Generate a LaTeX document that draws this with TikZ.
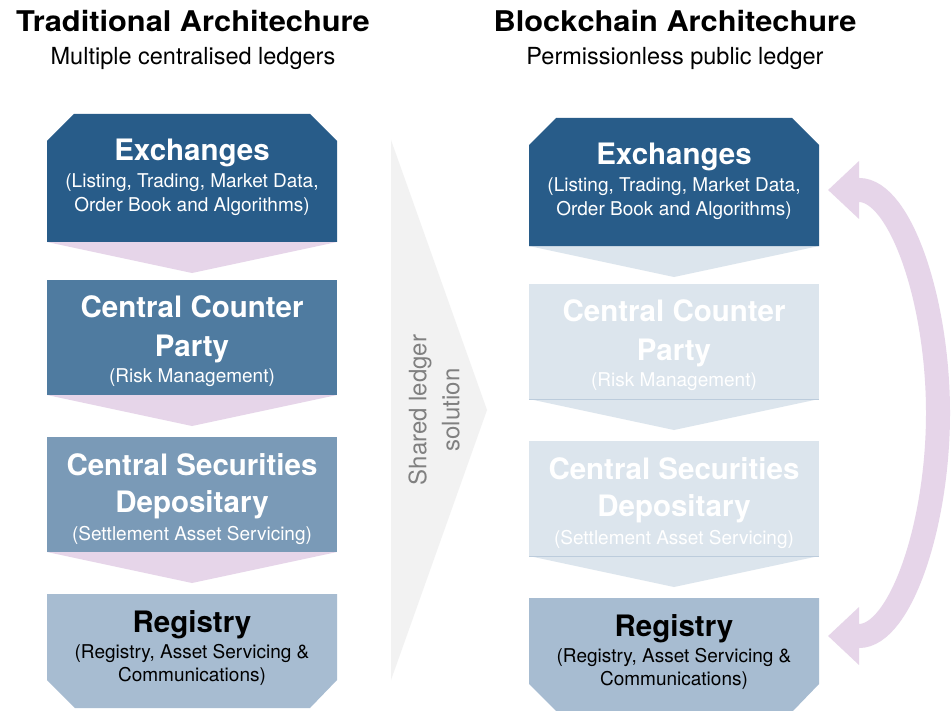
\documentclass[tikz,border=0pt]{standalone}
\usepackage{fontspec}
\setmainfont{TeX Gyre Heros}
\newfontfamily\titlefont[FakeStretch=1.08]{TeX Gyre Heros}
\usetikzlibrary{arrows.meta}
\definecolor{exA}{HTML}{285C89}
\definecolor{exB}{HTML}{4F7BA0}
\definecolor{exC}{HTML}{7A9AB7}
\definecolor{exD}{HTML}{A7BCD1}
\definecolor{faded}{HTML}{DCE5ED}
\definecolor{pinkc}{HTML}{E6D5E9}
\definecolor{grayarrow}{HTML}{F2F2F2}
\definecolor{graytext}{HTML}{808080}
\begin{document}
\begin{tikzpicture}[x=1pt,y=-1pt,
  hd/.style={font=\titlefont\fontsize{28.5}{32}\selectfont\bfseries, anchor=base, inner sep=0pt},
  subh/.style={font=\fontsize{23.5}{28}\selectfont, anchor=base, inner sep=0pt},
  bt/.style={font=\fontsize{29.5}{36}\selectfont\bfseries, anchor=base, inner sep=0pt},
  bs/.style={font=\fontsize{19}{24}\selectfont, anchor=base, inner sep=0pt},
  wt/.style={text=white},
  kt/.style={text=black},
  dbl/.style={draw=pinkc, line width=24pt,
    {Triangle[width=56pt,length=31pt,fill=pinkc]}-{Triangle[width=56pt,length=31pt,fill=pinkc]}}
]
\useasboundingbox (0,0) rectangle (952,711);
\fill[white] (0,0) rectangle (952,711);

% headers
\node[hd] (lt) at (193,32) {Traditional Architechure};
\node[subh] (ls) at (193,65) {Multiple centralised ledgers};
\node[hd] (rt) at (675,32) {Blockchain Architechure};
\node[subh] (rs) at (675,65) {Permissionless public ledger};

% middle arrow
\fill[grayarrow] (391,140) -- (487,410) -- (391,680) -- cycle;
\node[font=\fontsize{24}{33}\selectfont, text=graytext, rotate=90, align=center, inner sep=0pt] (shared) at (434,410) {Shared ledger\\solution};

% ---------- left column ----------
\fill[pinkc] (47,242) -- (337,242) -- (192,273) -- cycle;
\fill[pinkc] (47,395) -- (337,395) -- (192,426) -- cycle;
\fill[pinkc] (47,552) -- (337,552) -- (192,583) -- cycle;
\fill[exA] (47,141) -- (74,114) -- (310,114) -- (337,141) -- (337,242) -- (47,242) -- cycle;
\fill[exB] (47,280) rectangle (337,395);
\fill[exC] (47,437) rectangle (337,552);
\fill[exD] (47,594) -- (337,594) -- (337,680) -- (310,708) -- (75,708) -- (47,680) -- cycle;

\node[bt,wt] (lex1) at (192,161) {Exchanges};
\node[bs,wt] (lex2) at (192,188) {(Listing, Trading, Market Data,};
\node[bs,wt] (lex3) at (192,212) {Order Book and Algorithms)};
\node[bt,wt] (lcc1) at (192,317) {Central Counter};
\node[bt,wt] (lcc2) at (192,356) {Party};
\node[bs,wt] (lcc3) at (192,382) {(Risk Management)};
\node[bt,wt] (lcs1) at (192,475) {Central Securities};
\node[bt,wt] (lcs2) at (192,512) {Depositary};
\node[bs,wt] (lcs3) at (192,540) {(Settlement Asset Servicing)};
\node[bt,kt] (lrg1) at (192,632) {Registry};
\node[bs,kt] (lrg2) at (192,658) {(Registry, Asset Servicing \&};
\node[bs,kt] (lrg3) at (192,681) {Communications)};

% ---------- right column ----------
\fill[faded] (529,246) -- (819,246) -- (674,277) -- cycle;
\fill[faded] (529,399) -- (819,399) -- (674,430) -- cycle;
\fill[faded] (529,556) -- (819,556) -- (674,587) -- cycle;
\fill[exA] (529,145) -- (556,118) -- (792,118) -- (819,145) -- (819,246) -- (529,246) -- cycle;
\fill[faded] (529,284) rectangle (819,399);
\fill[faded] (529,441) rectangle (819,556);
\draw[color=exD!60!faded, line width=0.8pt] (529,399) -- (819,399);
\draw[color=exD!60!faded, line width=0.8pt] (529,556) -- (819,556);
\fill[exD] (529,598) -- (819,598) -- (819,684) -- (792,712) -- (557,712) -- (529,684) -- cycle;

\node[bt,wt] (rex1) at (674,165) {Exchanges};
\node[bs,wt] (rex2) at (674,192) {(Listing, Trading, Market Data,};
\node[bs,wt] (rex3) at (674,216) {Order Book and Algorithms)};
\node[bt,wt] (rcc1) at (674,321) {Central Counter};
\node[bt,wt] (rcc2) at (674,360) {Party};
\node[bs,wt] (rcc3) at (674,386) {(Risk Management)};
\node[bt,wt] (rcs1) at (674,479) {Central Securities};
\node[bt,wt] (rcs2) at (674,516) {Depositary};
\node[bs,wt] (rcs3) at (674,544) {(Settlement Asset Servicing)};
\node[bt,kt] (rrg1) at (674,636) {Registry};
\node[bs,kt] (rrg2) at (674,662) {(Registry, Asset Servicing \&};
\node[bs,kt] (rrg3) at (674,685) {Communications)};

% double arrow between right Exchanges and right Registry
\coordinate (tipTop) at (828,190);
\coordinate (tipBot) at (828,636);
\draw[dbl] (tipBot) -- (859,636) .. controls (900,636) and (938,526) .. (938,413)
  .. controls (938,300) and (900,190) .. (859,190) -- (tipTop);
\end{tikzpicture}
\end{document}
